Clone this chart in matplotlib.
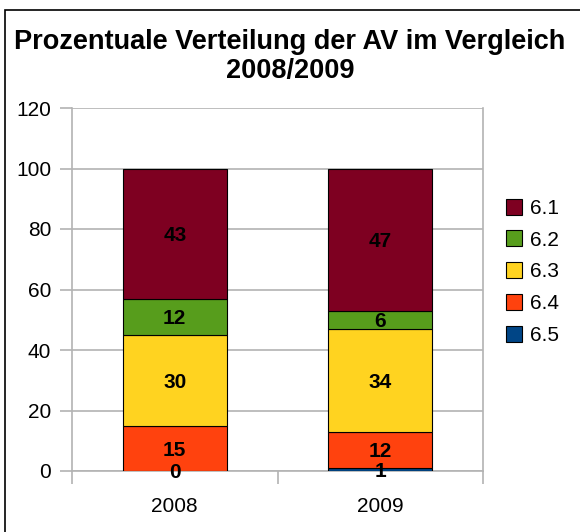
import matplotlib.pyplot as plt
from matplotlib.patches import Rectangle

plt.rcParams['font.family'] = ['Liberation Sans', 'DejaVu Sans']

# Daten
years = ["2008", "2009"]
series = ["6.5", "6.4", "6.3", "6.2", "6.1"]
values = {
    "6.5": [0, 1],
    "6.4": [15, 12],
    "6.3": [30, 34],
    "6.2": [12, 6],
    "6.1": [43, 47],
}
colors = {
    "6.1": "#7E0021",
    "6.2": "#579D1C",
    "6.3": "#FFD320",
    "6.4": "#FF420E",
    "6.5": "#004586",
}
yticks = [0, 20, 40, 60, 80, 100, 120]

fig = plt.figure(figsize=(5.8, 5.32), dpi=100)
ax = fig.add_axes([72 / 580, 1 - 471 / 532, 411 / 580, 363 / 532])

grid_col = "#b3b3b3"
x = list(range(len(years)))
bottom = [0] * len(years)
handles = {}
for name in series:
    vals = values[name]
    bars = ax.bar(x, vals, width=0.506, bottom=bottom, color=colors[name],
                  edgecolor="black", linewidth=0.8, zorder=3, label=name)
    handles[name] = bars
    for xi, v, b in zip(x, vals, bottom):
        ax.text(xi, b + v / 2, str(v), ha="center", va="center_baseline",
                fontsize=15, fontweight="bold", color="black", zorder=4)
    bottom = [b + v for b, v in zip(bottom, vals)]

ax.set_xlim(-0.5, 1.5)
ax.set_ylim(0, 120)
ax.set_yticks(yticks)
ax.set_xticks(x)
ax.set_xticklabels(years)
ax.set_xticks([-0.5, 0.5, 1.5], minor=True)

ax.yaxis.grid(True, color=grid_col, linewidth=1.2, zorder=0)
ax.set_axisbelow(True)
for side in ["left", "right", "bottom"]:
    ax.spines[side].set_color(grid_col)
    ax.spines[side].set_linewidth(1.2)
ax.spines["top"].set_visible(False)

ax.tick_params(axis="y", length=9, width=1.2, color=grid_col, labelsize=15, pad=6)
ax.tick_params(axis="x", which="major", length=0, labelsize=15, pad=19)
ax.tick_params(axis="x", which="minor", length=9, width=1.2, color=grid_col)

order = ["6.1", "6.2", "6.3", "6.4", "6.5"]
leg = fig.legend([handles[n] for n in order], order, loc="upper left",
                 bbox_to_anchor=(487 / 580, 1 - 180 / 532), frameon=False,
                 fontsize=15, handlelength=0.8, handleheight=0.8,
                 labelspacing=0.6, handletextpad=0.35)

fig.text(0.5, 1 - 42 / 532, "Prozentuale Verteilung der AV im Vergleich",
         ha="center", va="center", fontsize=19.5, fontweight="bold")
fig.text(0.5, 1 - 71 / 532, "2008/2009",
         ha="center", va="center", fontsize=19.5, fontweight="bold")

fig.patches.append(Rectangle((5 / 580, -0.05), 1.1, 1 - 10 / 532 + 0.05,
                             transform=fig.transFigure, fill=False,
                             edgecolor="black", linewidth=1.2))

fig.savefig("out.png", dpi=100)
